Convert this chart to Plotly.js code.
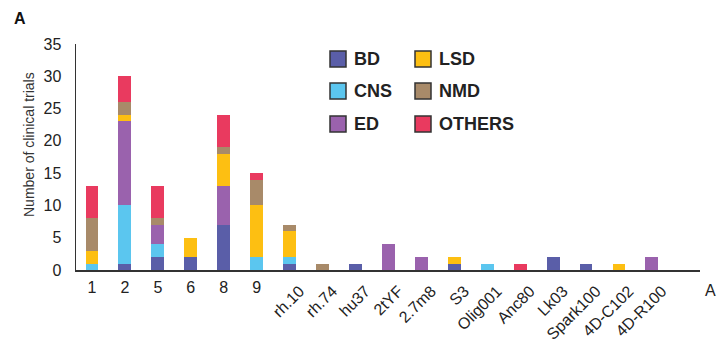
<!DOCTYPE html>
<html>
<head>
<meta charset="utf-8">
<script src="https://cdn.plot.ly/plotly-3.0.1.min.js"></script>
<style>
  html, body { margin: 0; padding: 0; background: #fff; }
  #chart { width: 718px; height: 347px; }
</style>
</head>
<body>
<div id="chart"></div>
<script>
// AAV serotypes / capsids on the x axis
const categories = ['1', '2', '5', '6', '8', '9', 'rh.10', 'rh.74', 'hu37', '2tYF', '2.7m8',
  'S3', 'Olig001', 'Anc80', 'Lk03', 'Spark100', '4D-C102', '4D-R100'];

// Number of clinical trials per disease area (stacked bottom to top)
const BD     = [0, 1, 2, 2, 7, 0, 1, 0, 1, 0, 0, 1, 0, 0, 2, 1, 0, 0];
const CNS    = [1, 9, 2, 0, 0, 2, 1, 0, 0, 0, 0, 0, 1, 0, 0, 0, 0, 0];
const ED     = [0, 13, 3, 0, 6, 0, 0, 0, 0, 4, 2, 0, 0, 0, 0, 0, 0, 2];
const LSD    = [2, 1, 0, 3, 5, 8, 4, 0, 0, 0, 0, 1, 0, 0, 0, 0, 1, 0];
const NMD    = [5, 2, 1, 0, 1, 4, 1, 1, 0, 0, 0, 0, 0, 0, 0, 0, 0, 0];
const OTHERS = [5, 4, 5, 0, 5, 1, 0, 0, 0, 0, 0, 0, 0, 1, 0, 0, 0, 0];

const seriesNames = ['BD', 'CNS', 'ED', 'LSD', 'NMD', 'OTHERS'];
const seriesValues = [BD, CNS, ED, LSD, NMD, OTHERS];
const seriesColors = ['#5a5ea8', '#5bc6ef', '#9a62ad', '#fdbf12', '#a88a69', '#e93a5f'];

const yTicks = [0, 5, 10, 15, 20, 25, 30, 35];
const yTitle = 'Number of clinical trials';

// first six labels are drawn flat, the rest at an angle
const flatLabels = categories.slice(0, 6);
const slantLabels = categories.slice(6);

const FONT = 'Liberation Sans, Arial, sans-serif';
const xRange = [-0.485, 18.46];

// plot box in pixels, used to place the hand-built legend
const box = { l: 76, t: 44, w: 624, h: 226 };
const px = (x) => (x - box.l) / box.w;
const py = (y) => (box.t + box.h - y) / box.h;

const traces = seriesNames.map((name, i) => ({
  type: 'bar',
  name: name,
  x: categories,
  y: seriesValues[i],
  marker: { color: seriesColors[i], line: { width: 0 } },
  showlegend: false,
  hovertemplate: '%{x}: %{y}<extra>' + name + '</extra>'
}));

// carrier for the flat tick labels on the overlaid axis
traces.push({
  type: 'scatter',
  mode: 'markers',
  x: categories,
  y: categories.map(() => null),
  xaxis: 'x2',
  showlegend: false,
  hoverinfo: 'skip'
});

// two-column legend built from shapes and labels
const shapes = [];
const annotations = [];
const legendCols = [330, 415];
const legendRows = [51, 83, 116];
const sw = 16;
seriesNames.forEach((name, i) => {
  const col = Math.floor(i / 3);
  const row = i % 3;
  const x0 = legendCols[col];
  const y0 = legendRows[row];
  shapes.push({
    type: 'rect', xref: 'paper', yref: 'paper',
    x0: px(x0), x1: px(x0 + sw),
    y0: py(y0), y1: py(y0 + sw),
    fillcolor: seriesColors[i],
    line: { color: '#333333', width: 1.5 }
  });
  annotations.push({
    xref: 'paper', yref: 'paper',
    x: px(x0 + sw + 6), y: py(y0 + sw / 2),
    xanchor: 'left', yanchor: 'middle',
    text: '<b>' + name + '</b>', showarrow: false,
    font: { family: FONT, size: 18, color: '#222222' }
  });
});

// y-axis title, centred a little above the middle of the axis
annotations.push({
  xref: 'paper', yref: 'paper', x: px(29), y: py(145),
  xanchor: 'center', yanchor: 'middle', textangle: -90,
  text: yTitle, showarrow: false,
  font: { family: FONT, size: 14, color: '#333333' }
});

// panel letter and trailing axis label
annotations.push({
  xref: 'paper', yref: 'paper', x: px(12), y: py(19),
  xanchor: 'left', yanchor: 'middle', text: '<b>A</b>', showarrow: false,
  font: { family: FONT, size: 16, color: '#111111' }
});
annotations.push({
  xref: 'paper', yref: 'paper', x: px(703), y: py(290),
  xanchor: 'left', yanchor: 'middle', text: 'A', showarrow: false,
  font: { family: FONT, size: 16, color: '#222222' }
});

const layout = {
  width: 718,
  height: 347,
  margin: { l: box.l, r: 718 - box.l - box.w, t: box.t, b: 347 - box.t - box.h },
  paper_bgcolor: '#ffffff',
  plot_bgcolor: '#ffffff',
  barmode: 'stack',
  bargap: 0.61,
  font: { family: FONT, size: 16, color: '#222222' },
  xaxis: {
    type: 'category',
    categoryorder: 'array',
    categoryarray: categories,
    range: xRange,
    tickvals: slantLabels,
    ticktext: slantLabels,
    tickangle: -45,
    ticks: '',
    ticklabelstandoff: 4,
    ticklabelshift: 10,
    showline: true,
    linecolor: '#333333',
    linewidth: 1.5,
    showgrid: false,
    zeroline: false,
    fixedrange: true,
    tickfont: { family: FONT, size: 16, color: '#222222' }
  },
  xaxis2: {
    type: 'category',
    categoryorder: 'array',
    categoryarray: categories,
    overlaying: 'x',
    anchor: 'y',
    side: 'bottom',
    range: xRange,
    tickvals: flatLabels,
    ticktext: flatLabels,
    tickangle: 0,
    ticks: '',
    ticklabelstandoff: 6,
    showline: false,
    showgrid: false,
    zeroline: false,
    fixedrange: true,
    tickfont: { family: FONT, size: 16, color: '#222222' }
  },
  yaxis: {
    range: [0, 35],
    tickvals: yTicks,
    ticks: '',
    ticklabelstandoff: 10,
    showline: true,
    linecolor: '#333333',
    linewidth: 1.5,
    showgrid: false,
    zeroline: false,
    fixedrange: true,
    tickfont: { family: FONT, size: 16, color: '#222222' }
  },
  shapes: shapes,
  annotations: annotations,
  showlegend: false
};

Plotly.newPlot('chart', traces, layout, { displayModeBar: false, staticPlot: true });
</script>
</body>
</html>
